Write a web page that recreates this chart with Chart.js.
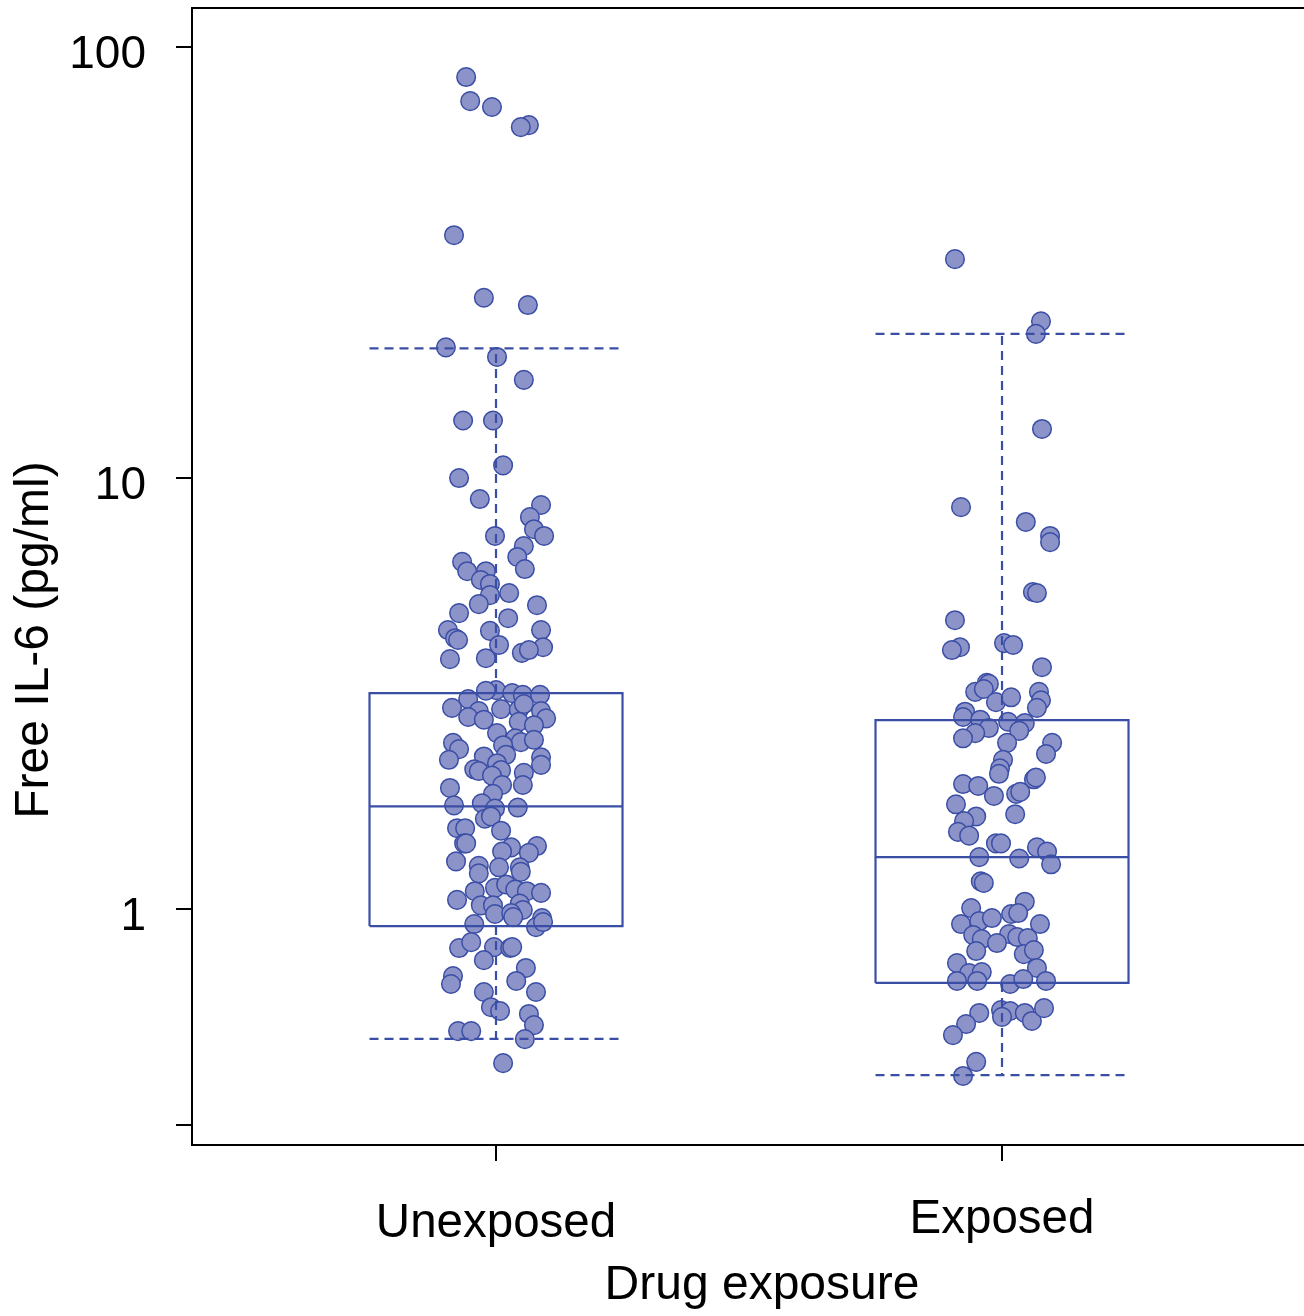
<!DOCTYPE html>
<html><head><meta charset="utf-8">
<script src="https://cdn.jsdelivr.net/npm/chart.js@4.4.1/dist/chart.umd.min.js"></script>
<style>html,body{margin:0;padding:0;background:#fff}#wrap{width:1304px;height:1316px;position:relative}</style>
</head><body><div id="wrap"><canvas id="c" width="1304" height="1316"></canvas></div>
<script>
const categories = ['Unexposed', 'Exposed'];

const unexposedValues = [
 85.2, 74.9, 72.6, 65.9, 65.2, 36.6, 26.2, 25.2, 20.1, 19.1,
 16.9, 13.6, 13.6, 10.7, 10.0, 8.94, 8.66, 8.12, 7.61, 7.34,
 7.34, 6.95, 6.56, 6.39, 6.08, 6.15, 6.08, 5.80, 5.68, 5.35,
 5.41, 5.10, 5.07, 4.86, 4.73, 4.44, 4.25, 4.21, 4.42, 4.10,
 4.44, 4.05, 3.93, 3.99, 3.80, 3.82, 3.22, 3.21, 3.17, 3.14,
 3.14, 3.07, 2.93, 2.88, 2.91, 2.90, 2.99, 2.88, 2.77, 2.79,
 2.75, 2.72, 2.67, 2.56, 2.49, 2.44, 2.47, 2.43, 2.35, 2.40,
 2.28, 2.26, 2.22, 2.25, 2.16, 2.18, 2.11, 2.09, 2.10, 2.04,
 2.07, 1.94, 1.94, 1.91, 1.85, 1.74, 1.76, 1.71, 1.72, 1.62,
 1.64, 1.54, 1.54, 1.52, 1.42, 1.42, 1.39, 1.40, 1.35, 1.36,
 1.29, 1.26, 1.25, 1.25, 1.21, 1.22, 1.12, 1.14, 1.10, 1.11,
 1.10, 1.09, 1.05, 1.02, 1.02, 1.03, 0.974, 0.995, 0.979, 0.953,
 0.923, 0.958, 0.908, 0.933, 0.812, 0.838, 0.816, 0.812, 0.816, 0.761,
 0.730, 0.699, 0.670, 0.681, 0.642, 0.642, 0.592, 0.580, 0.571, 0.538,
 0.521, 0.521, 0.499, 0.439
];
const unexposedJitter = [
 -0.059, -0.051, -0.008, 0.065, 0.049, -0.083, -0.024, 0.063, -0.099, 0.002,
 0.055, -0.065, -0.006, 0.014, -0.073, -0.032, 0.089, 0.067, 0.075, 0.095,
 -0.002, 0.055, 0.042, -0.067, -0.057, 0.057, -0.020, -0.030, -0.012, -0.012,
 0.026, -0.034, 0.081, -0.073, 0.024, -0.095, -0.081, -0.075, -0.012, 0.006,
 0.089, 0.093, 0.051, 0.065, -0.091, -0.020, 0.000, -0.020, 0.032, 0.053,
 0.087, -0.055, -0.087, -0.034, 0.010, 0.045, 0.055, 0.089, 0.099, -0.055,
 -0.024, 0.045, 0.075, 0.002, 0.038, 0.049, 0.075, -0.085, -0.073, 0.014,
 0.020, -0.024, -0.093, 0.089, 0.089, 0.002, -0.043, -0.034, 0.010, -0.008,
 0.055, 0.012, 0.053, -0.091, -0.006, -0.083, -0.028, -0.002, 0.043, -0.022,
 -0.010, -0.077, -0.061, 0.010, -0.063, -0.059, 0.030, 0.081, 0.065, 0.012,
 -0.079, -0.034, 0.047, 0.006, -0.034, 0.049, -0.002, 0.020, -0.042, 0.038,
 0.061, 0.089, -0.077, -0.030, -0.006, 0.047, -0.002, 0.053, 0.030, 0.091,
 -0.043, 0.034, 0.079, 0.093, -0.073, -0.049, -0.004, 0.028, 0.032, -0.024,
 0.059, -0.085, -0.089, 0.040, -0.024, 0.079, -0.010, 0.008, 0.065, 0.075,
 -0.075, -0.049, 0.057, 0.014
];

const exposedValues = [
 32.2, 23.1, 21.6, 13.0, 8.56, 7.91, 7.34, 7.10, 5.44, 5.41,
 4.68, 4.05, 3.99, 4.14, 4.10, 3.64, 3.35, 3.33, 3.19, 3.24,
 3.02, 3.10, 3.19, 3.05, 2.93, 2.87, 2.79, 2.75, 2.63, 2.56,
 2.72, 2.70, 2.59, 2.49, 2.43, 2.29, 2.43, 2.22, 2.12, 2.06,
 2.00, 2.02, 1.95, 1.93, 1.83, 1.85, 1.87, 1.75, 1.66, 1.64,
 1.60, 1.51, 1.48, 1.42, 1.42, 1.32, 1.31, 1.39, 1.36, 1.27,
 1.16, 1.15, 1.04, 1.005, 0.974, 0.979, 0.923, 0.938, 0.953, 0.923,
 0.870, 0.852, 0.875, 0.861, 0.834, 0.856, 0.799, 0.786, 0.803, 0.749,
 0.710, 0.714, 0.730, 0.681, 0.681, 0.670, 0.688, 0.681, 0.583, 0.580,
 0.574, 0.574, 0.550, 0.589, 0.562, 0.541, 0.510, 0.442, 0.410
];
const exposedJitter = [
 -0.093, 0.077, 0.067, 0.079, -0.081, 0.047, 0.095, 0.095, 0.061, 0.069,
 -0.093, -0.083, -0.099, 0.004, 0.022, 0.079, -0.030, -0.026, -0.053, -0.036,
 -0.012, 0.018, 0.073, 0.077, 0.069, -0.073, -0.077, -0.043, -0.026, -0.053,
 0.012, 0.045, 0.034, -0.077, 0.099, 0.087, 0.010, 0.002, -0.004, -0.006,
 0.063, 0.067, -0.077, -0.047, -0.016, 0.028, 0.036, -0.091, 0.026, -0.051,
 -0.075, -0.087, -0.065, -0.012, -0.002, -0.045, 0.034, 0.069, 0.089, 0.097,
 -0.042, -0.036, 0.045, -0.061, 0.018, 0.032, -0.081, -0.045, -0.020, 0.075,
 -0.057, -0.040, 0.014, 0.030, -0.010, 0.051, -0.051, 0.043, 0.063, -0.089,
 -0.065, -0.040, 0.069, -0.089, -0.049, 0.016, 0.042, 0.087, -0.002, 0.016,
 -0.045, 0.045, 0.059, 0.083, 0.000, -0.071, -0.097, -0.051, -0.077
];

// box-plot statistics per category (Unexposed, Exposed)
const boxQ1 = [0.913, 0.674];
const boxMedian = [1.73, 1.32];
const boxQ3 = [3.17, 2.745];
const whiskerLow = [0.50, 0.412];
const whiskerHigh = [20.0, 21.6];

const yTicks = [0.316, 1, 10, 100];
const yTickLabels = ['', '1', '10', '100'];
const yTitle = 'Free IL-6 (pg/ml)';
const xTitle = 'Drug exposure';

// ---- styling ----
const STROKE = '#3b4ea6';
const FILL = '#8c93c8';
const FONT = '"Liberation Sans", Arial, Helvetica, sans-serif';
const HALF = 0.25;

const groups = [
  {values: unexposedValues, jitter: unexposedJitter},
  {values: exposedValues, jitter: exposedJitter}
];

const datasets = [];
groups.forEach((g, gi) => {
  const c = gi + 1;
  datasets.push({
    label: categories[gi],
    data: g.values.map((v, i) => ({x: c + g.jitter[i], y: v})),
    showLine: false,
    pointRadius: 9.3,
    pointHoverRadius: 9.3,
    pointBackgroundColor: FILL,
    pointBorderColor: STROKE,
    pointBorderWidth: 1.5,
    order: 2
  });
  const solid = {showLine: true, pointRadius: 0, borderColor: STROKE, borderWidth: 2.2, fill: false, tension: 0, order: 0};
  const dashed = Object.assign({}, solid, {borderDash: [9, 6], borderWidth: 2.2});
  datasets.push(Object.assign({label: 'box', data: [
    {x: c - HALF, y: boxQ1[gi]}, {x: c + HALF, y: boxQ1[gi]},
    {x: c + HALF, y: boxQ3[gi]}, {x: c - HALF, y: boxQ3[gi]},
    {x: c - HALF, y: boxQ1[gi]}]}, solid));
  datasets.push(Object.assign({label: 'median', data: [
    {x: c - HALF, y: boxMedian[gi]}, {x: c + HALF, y: boxMedian[gi]}]}, solid));
  datasets.push(Object.assign({label: 'whiskerUp', data: [
    {x: c, y: boxQ3[gi]}, {x: c, y: whiskerHigh[gi]}]}, dashed));
  datasets.push(Object.assign({label: 'whiskerDown', data: [
    {x: c, y: boxQ1[gi]}, {x: c, y: whiskerLow[gi]}]}, dashed));
  datasets.push(Object.assign({label: 'capUp', data: [
    {x: c - HALF, y: whiskerHigh[gi]}, {x: c + HALF, y: whiskerHigh[gi]}]}, dashed));
  datasets.push(Object.assign({label: 'capDown', data: [
    {x: c - HALF, y: whiskerLow[gi]}, {x: c + HALF, y: whiskerLow[gi]}]}, dashed));
});

const axesPlugin = {
  id: 'rAxes',
  afterDraw(chart) {
    const {ctx, chartArea: a, scales: {x, y}} = chart;
    ctx.save();
    ctx.strokeStyle = '#000';
    ctx.lineWidth = 2;
    ctx.beginPath();
    ctx.moveTo(chart.width, a.top);
    ctx.lineTo(a.left, a.top);
    ctx.lineTo(a.left, a.bottom);
    ctx.lineTo(chart.width, a.bottom);
    ctx.stroke();

    ctx.fillStyle = '#000';
    ctx.font = '46px ' + FONT;
    ctx.textAlign = 'right';
    ctx.textBaseline = 'alphabetic';
    yTicks.forEach((t, i) => {
      const py = Math.round(y.getPixelForValue(t));
      ctx.beginPath();
      ctx.moveTo(a.left - 16, py);
      ctx.lineTo(a.left, py);
      ctx.stroke();
      if (yTickLabels[i]) ctx.fillText(yTickLabels[i], a.left - 46, py + 21);
    });

    ctx.textAlign = 'center';
    ctx.font = '47.5px ' + FONT;
    categories.forEach((cat, i) => {
      const px = Math.round(x.getPixelForValue(i + 1));
      ctx.beginPath();
      ctx.moveTo(px, a.bottom);
      ctx.lineTo(px, a.bottom + 16);
      ctx.stroke();
      ctx.fillText(cat, px, a.bottom + (i === 0 ? 92 : 88));
    });

    ctx.font = '48px ' + FONT;
    ctx.fillText(xTitle, a.left + 570, a.bottom + 154);

    ctx.translate(48, 640);
    ctx.rotate(-Math.PI / 2);
    ctx.fillText(yTitle, 0, 0);
    ctx.restore();
  }
};

new Chart(document.getElementById('c'), {
  type: 'scatter',
  data: {datasets},
  options: {
    responsive: false,
    animation: false,
    devicePixelRatio: 1,
    layout: {autoPadding: false, padding: {left: 192, top: 8, right: 0, bottom: 171}},
    plugins: {legend: {display: false}, tooltip: {enabled: false}},
    scales: {
      x: {type: 'linear', min: 0.3992, max: 2.5968, display: false},
      y: {type: 'logarithmic', min: 0.2835, max: 123.2, display: false}
    }
  },
  plugins: [axesPlugin]
});
</script>
</body></html>
